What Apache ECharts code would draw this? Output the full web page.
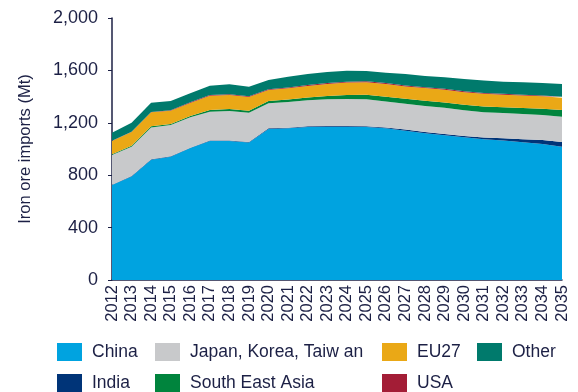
<!DOCTYPE html>
<html>
<head>
<meta charset="utf-8">
<script src="https://cdn.jsdelivr.net/npm/echarts@6/dist/echarts.min.js"></script>
<style>html,body{margin:0;padding:0;background:#fff;}#c{width:578px;height:392px;}</style>
</head>
<body>
<div id="c"></div>
<script>
const years = ['2012','2013','2014','2015','2016','2017','2018','2019','2020','2021','2022','2023','2024','2025','2026','2027','2028','2029','2030','2031','2032','2033','2034','2035'];
const china = [725,790,918,941,1007,1061,1061,1050,1153,1158,1168,1170,1170,1168,1158,1140,1120,1105,1089,1074,1064,1051,1038,1018];
const india = [3,3,3,3,3,3,3,4,5,5,5,5,6,6,7,8,9,10,11,14,18,23,30,36];
const jkt = [226,225,244,239,232,221,226,222,191,196,200,205,205,206,198,198,200,200,195,193,192,193,192,193];
const sea = [5,7,8,8,10,12,15,16,17,18,21,24,32,34,36,38,40,40,42,44,45,46,47,50];
const eu27 = [102,105,107,101,100,110,108,105,84,86,87,92,94,96,97,94,96,97,97,96,95,95,95,94];
const usa = [2,2,3,3,4,5,5,5,6,7,7,7,7,7,7,7,7,7,7,7,7,7,7,7];
const other = [62,69,71,71,69,71,76,74,71,82,84,85,84,78,80,87,85,88,93,94,93,94,95,98];
const yTicks = [0,400,800,1200,1600,2000];

const names = ['China','India','Japan, Korea, Taiw an','South East Asia','EU27','USA','Other'];
const colors = ['#00a3e0','#003478','#c8c9cb','#00843d','#eaa816','#a31d36','#007a6c'];
const dataSets = [china, india, jkt, sea, eu27, usa, other];
const txt = '#1c2045';
const font = 'Liberation Sans, Arial, sans-serif';

const legendPos = {
  'China': [57, 343], 'Japan, Korea, Taiw an': [155, 343], 'EU27': [382, 343], 'Other': [477, 343],
  'India': [57, 374], 'South East Asia': [155, 374], 'USA': [382, 374]
};
const legends = names.map(n => ({
  data: [n], left: legendPos[n][0], top: legendPos[n][1],
  itemWidth: 25, itemHeight: 18, itemGap: 0, padding: 0,
  icon: 'rect', selectedMode: false,
  textStyle: {fontFamily: font, fontSize: 17.5, color: txt, padding: [0,0,0,5]}
}));

const chart = echarts.init(document.getElementById('c'), null, {renderer: 'canvas'});
chart.setOption({
  animation: false,
  color: colors,
  grid: {left: 112, right: 16, top: 18, bottom: 112, containLabel: false},
  legend: legends,
  xAxis: {
    type: 'category', data: years, boundaryGap: false,
    axisLine: {lineStyle: {color: txt, width: 1.5}},
    axisTick: {show: false},
    axisLabel: {rotate: 90, interval: 0, fontFamily: font, fontSize: 16.5, color: txt, margin: 5}
  },
  yAxis: {
    type: 'value', min: 0, max: 2000, interval: 400,
    name: 'Iron ore imports (Mt)', nameLocation: 'middle', nameGap: 78,
    nameTextStyle: {fontFamily: font, fontSize: 16.5, color: txt},
    axisLine: {show: true, lineStyle: {color: txt, width: 1.5}},
    axisTick: {show: true, length: 4, lineStyle: {color: txt}},
    splitLine: {show: false},
    axisLabel: {fontFamily: font, fontSize: 18, color: txt, margin: 14,
      formatter: v => yTicks.includes(v) ? v.toLocaleString('en-US') : ''}
  },
  series: dataSets.map((d, i) => ({
    name: names[i], type: 'line', stack: 'total', data: d,
    showSymbol: false, symbol: 'none',
    lineStyle: {width: 0},
    areaStyle: {color: colors[i], opacity: 1},
    itemStyle: {color: colors[i]}
  }))
});
</script>
</body>
</html>
